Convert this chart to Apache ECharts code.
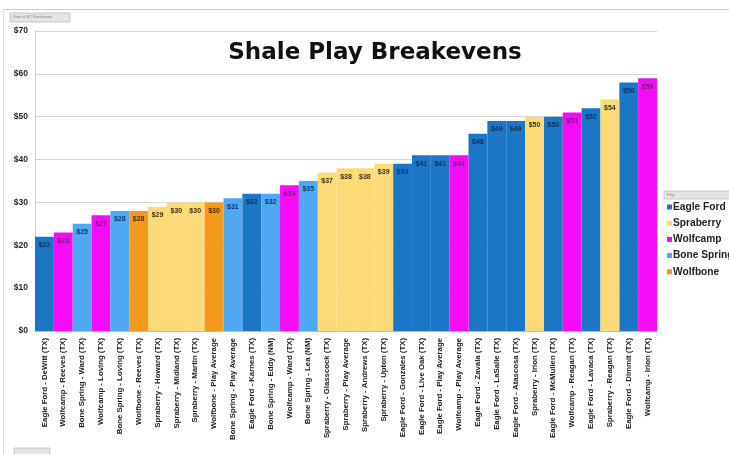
<!DOCTYPE html>
<html>
<head>
<meta charset="utf-8">
<script src="https://cdn.jsdelivr.net/npm/echarts@6/dist/echarts.min.js"></script>
<style>
html,body{margin:0;padding:0;background:#fff;}
#c{width:729px;height:454px;}
</style>
</head>
<body>
<div id="c"></div>
<script>
var categories = [
  "Eagle Ford - DeWitt (TX)", "Wolfcamp - Reeves (TX)", "Bone Spring - Ward (TX)", "Wolfcamp - Loving (TX)",
  "Bone Spring - Loving (TX)", "Wolfbone - Reeves (TX)", "Spraberry - Howard (TX)", "Spraberry - Midland (TX)",
  "Spraberry - Martin (TX)", "Wolfbone - Play Average", "Bone Spring - Play Average", "Eagle Ford - Karnes (TX)",
  "Bone Spring - Eddy (NM)", "Wolfcamp - Ward (TX)", "Bone Spring - Lea (NM)", "Spraberry - Glasscock (TX)",
  "Spraberry - Play Average", "Spraberry - Andrews (TX)", "Spraberry - Upton (TX)", "Eagle Ford - Gonzales (TX)",
  "Eagle Ford - Live Oak (TX)", "Eagle Ford - Play Average", "Wolfcamp - Play Average", "Eagle Ford - Zavala (TX)",
  "Eagle Ford - LaSalle (TX)", "Eagle Ford - Atascosa (TX)", "Spraberry - Irion (TX)", "Eagle Ford - McMullen (TX)",
  "Wolfcamp - Reagan (TX)", "Eagle Ford - Lavaca (TX)", "Spraberry - Reagan (TX)", "Eagle Ford - Dimmit (TX)",
  "Wolfcamp - Irion (TX)"
];
var breakevens = [22, 23, 25, 27, 28, 28, 29, 30, 30, 30, 31, 32, 32, 34, 35, 37, 38, 38, 39, 39, 41, 41, 41, 46, 49, 49, 50, 50, 51, 52, 54, 58, 59];
var plays = ["Eagle Ford","Wolfcamp","Bone Spring","Wolfcamp","Bone Spring","Wolfbone","Spraberry","Spraberry",
  "Spraberry","Wolfbone","Bone Spring","Eagle Ford","Bone Spring","Wolfcamp","Bone Spring","Spraberry",
  "Spraberry","Spraberry","Spraberry","Eagle Ford","Eagle Ford","Eagle Ford","Wolfcamp","Eagle Ford",
  "Eagle Ford","Eagle Ford","Spraberry","Eagle Ford","Wolfcamp","Eagle Ford","Spraberry","Eagle Ford","Wolfcamp"];
var playNames = ["Eagle Ford", "Spraberry", "Wolfcamp", "Bone Spring", "Wolfbone"];
var yTicks = [0, 10, 20, 30, 40, 50, 60, 70];

var playColors = {"Eagle Ford":"#1c76c6","Spraberry":"#fcda78","Wolfcamp":"#f50cf5","Bone Spring":"#4ea8f2","Wolfbone":"#f4991c"};
var labelColors = {"Eagle Ford":"#12305e","Spraberry":"#3a3310","Wolfcamp":"#7a1a80","Bone Spring":"#12386a","Wolfbone":"#4a2c08"};

var series = playNames.map(function(p){
  return {
    name: p,
    type: 'bar',
    stack: 'all',
    barCategoryGap: '0%',
    itemStyle: {color: playColors[p]},
    label: {
      show: true, position: 'insideTop', distance: 5,
      fontSize: 7, fontWeight: 'bold', color: labelColors[p],
      fontFamily: 'Liberation Sans',
      formatter: function(d){ return '$' + Math.round(d.value); }
    },
    data: breakevens.map(function(v, i){ return plays[i] === p ? v : null; })
  };
});

var chart = echarts.init(document.getElementById('c'));
chart.setOption({
  animation: false,
  backgroundColor: '#fff',
  title: {
    text: 'Shale Play Breakevens', left: 370, top: 37, textAlign: 'center',
    textStyle: {fontFamily: 'DejaVu Sans', fontWeight: 'bold', fontSize: 23, color: '#111'}
  },
  legend: {
    orient: 'vertical', left: 662, top: 197, itemWidth: 5, itemHeight: 5, itemGap: 6.2,
    icon: 'rect',
    textStyle: {fontFamily: 'Liberation Sans', fontWeight: 'bold', fontSize: 10.2, color: '#222', padding: [0,0,0,-4]},
    data: playNames
  },
  grid: {left: 35, right: 72, top: 31, bottom: 123},
  xAxis: {
    type: 'category', data: categories,
    axisLine: {lineStyle: {color: '#bbb'}},
    axisTick: {show: false},
    axisLabel: {rotate: 90, interval: 0, fontSize: 7.8, fontWeight: 'bold', color: '#222', fontFamily: 'Liberation Sans', margin: 7}
  },
  yAxis: {
    type: 'value', min: yTicks[0], max: yTicks[yTicks.length-1], interval: 10,
    axisLine: {show: true, lineStyle: {color: '#ccc'}},
    axisTick: {show: false},
    splitLine: {lineStyle: {color: '#d8d8d8'}},
    axisLabel: {formatter: '${value}', fontSize: 8.5, fontWeight: 'bold', color: '#222', fontFamily: 'Liberation Sans', margin: 7}
  },
  graphic: [
    {type: 'line', shape: {x1: 3, y1: 9.5, x2: 729, y2: 9.5}, style: {stroke: '#ccc', lineWidth: 1}},
    {type: 'line', shape: {x1: 3.5, y1: 9, x2: 3.5, y2: 454}, style: {stroke: '#ddd', lineWidth: 1}},
    {type: 'rect', shape: {x: 10, y: 13, width: 60, height: 9}, style: {fill: '#e4e4e4', stroke: '#c8c8c8'}},
    {type: 'text', style: {x: 13, y: 15, text: 'Sum of BT Breakeven', fontSize: 4, fill: '#888'}},
    {type: 'rect', shape: {x: 14, y: 448, width: 36, height: 8}, style: {fill: '#e4e4e4', stroke: '#c8c8c8'}},
    {type: 'rect', shape: {x: 664, y: 191, width: 70, height: 8}, style: {fill: '#e4e4e4', stroke: '#c8c8c8'}},
    {type: 'text', style: {x: 667, y: 193, text: 'Play', fontSize: 4, fill: '#888'}}
  ],
  series: series
});
</script>
</body>
</html>
